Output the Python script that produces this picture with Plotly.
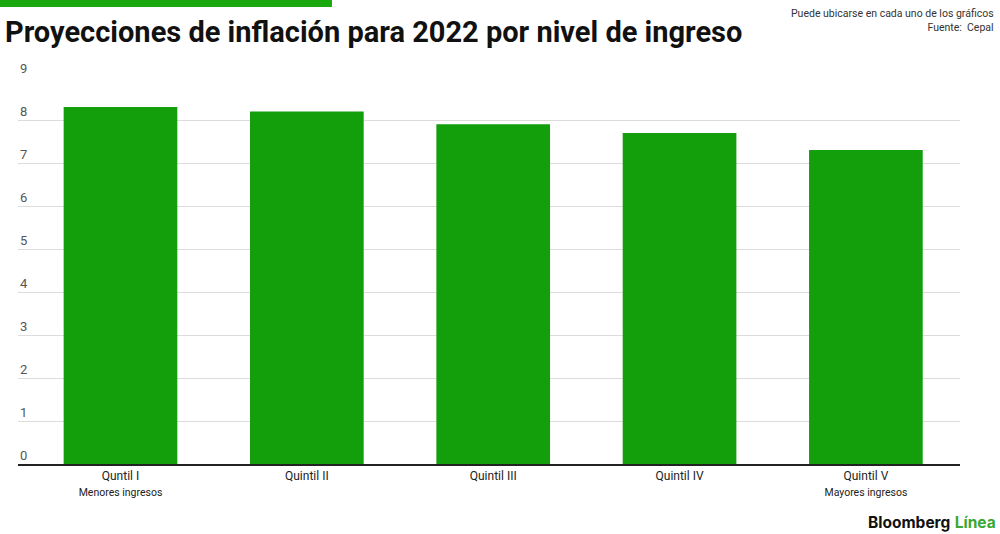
import plotly.graph_objects as go

# Datos
quintiles = ["Quntil I", "Quintil II", "Quintil III", "Quintil IV", "Quintil V"]
subtitulos = ["Menores ingresos", "", "", "", "Mayores ingresos"]
inflacion = [8.3, 8.2, 7.9, 7.7, 7.3]
y_ticks = [0, 1, 2, 3, 4, 5, 6, 7, 8, 9]

verde = "#139e0b"

etiquetas = []
for q, s in zip(quintiles, subtitulos):
    if s:
        etiquetas.append(q + "<br><span style='font-size:10.5px'>" + s + "</span>")
    else:
        etiquetas.append(q)

fig = go.Figure(go.Bar(
    x=quintiles,
    y=inflacion,
    marker=dict(color=verde, line=dict(width=0)),
    width=0.61,
    hoverinfo="x+y",
))

fig.update_layout(
    width=1000,
    height=534,
    paper_bgcolor="white",
    plot_bgcolor="white",
    margin=dict(l=18, r=40, t=77, b=70),
    showlegend=False,
    font=dict(family="Roboto, Arial, sans-serif", color="#333"),
)

fig.update_xaxes(
    tickmode="array",
    tickvals=quintiles,
    ticktext=etiquetas,
    tickfont=dict(size=12, color="#222"),
    showgrid=False,
    showline=True,
    linecolor="#222",
    linewidth=2,
    ticks="",
    range=[-0.55, 4.505],
)

fig.update_yaxes(
    range=[0, 9],
    tickvals=y_ticks,
    showticklabels=False,
    showgrid=True,
    gridcolor="#dcdcdc",
    gridwidth=1,
    zeroline=False,
    showline=False,
    ticks="",
)

# etiquetas del eje y, encima de cada linea
for t in y_ticks:
    fig.add_annotation(
        text=str(t), xref="paper", yref="y", x=0, y=t,
        xanchor="left", yanchor="bottom", yshift=-1, showarrow=False,
        font=dict(size=13, color="#555"),
    )

# barra verde superior
fig.add_shape(type="rect", xref="paper", yref="paper",
              x0=-0.02, x1=0.3333, y0=1.181, y1=1.2,
              fillcolor="#1aa80f", line=dict(width=0), layer="above")

# titulo
fig.add_annotation(
    text="<b>Proyecciones de inflación para 2022 por nivel de ingreso</b>",
    xref="paper", yref="paper", x=-0.016, y=1.166,
    xanchor="left", yanchor="top", showarrow=False,
    font=dict(size=29, color="#111", family="Roboto, Arial, sans-serif"),
)

# nota y fuente
fig.add_annotation(
    text="Puede ubicarse en cada uno de los gráficos<br>Fuente:  Cepal",
    xref="paper", yref="paper", x=1.038, y=1.187,
    xanchor="right", yanchor="top", align="right", showarrow=False,
    font=dict(size=10.5, color="#333"),
)

# logo
fig.add_annotation(
    text="<b>Bloomberg</b> <b><span style='color:#3aa832'>Línea</span></b>",
    xref="paper", yref="paper", x=1.04, y=-0.152,
    xanchor="right", yanchor="middle", showarrow=False,
    font=dict(size=15.5, color="#111", family="Inter, Roboto, Arial, sans-serif"),
)

fig.write_html("out.html", config={"displayModeBar": False},
               post_script="document.body.style.margin='0';")
